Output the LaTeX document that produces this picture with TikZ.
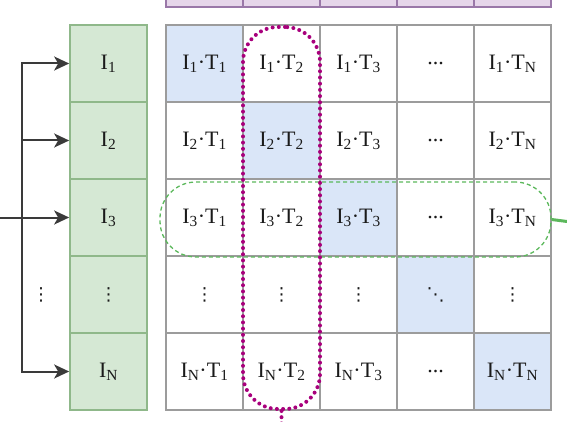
\documentclass[tikz,border=0pt]{standalone}
\usepackage{fontspec}
\setmainfont{Liberation Serif}
\newfontfamily\symfont{DejaVu Sans}
\usetikzlibrary{arrows.meta}
\definecolor{gfill}{HTML}{D5E8D4}
\definecolor{gborder}{HTML}{8FB88A}
\definecolor{bfill}{HTML}{DAE6F8}
\definecolor{gridc}{HTML}{9C9C9C}
\definecolor{pfill}{HTML}{E6D6EA}
\definecolor{pborder}{HTML}{9A78A8}
\definecolor{arrc}{HTML}{3A3A3A}
\definecolor{magc}{HTML}{A8007C}
\definecolor{gdc}{HTML}{5CB85C}
\definecolor{txtc}{HTML}{1A1A1A}
\newcommand\prodtxt[2]{I\textsubscript{#1}·T\textsubscript{#2}}
\newcommand\vdotstxt{{\symfont\fontsize{18}{18}\selectfont ⋮}}
\newcommand\ddotstxt{{\symfont\fontsize{18}{18}\selectfont ⋱}}
\tikzset{
  cellbox/.style={draw=gridc, line width=1.7pt, minimum width=77pt, minimum height=77pt,
    inner sep=0pt, font=\fontsize{22}{24}\selectfont, text=txtc},
  diag/.style={cellbox, fill=bfill},
  gbox/.style={cellbox, draw=gborder, fill=gfill},
  pbox/.style={cellbox, draw=pborder, fill=pfill},
  arr/.style={draw=arrc, line width=2pt, -{Stealth[length=15pt,width=14pt,inset=4pt]}},
  magdot/.style={draw=magc, line width=4pt, dash pattern=on 0pt off 6.2pt, line cap=round},
  gdash/.style={draw=gdc, line width=1.3pt, dash pattern=on 4pt off 3pt},
  gout/.style={draw=gdc, line width=3pt},
}
\begin{document}
\begin{tikzpicture}[x=1pt,y=-1pt]
\useasboundingbox (0,0) rectangle (567,422);
\clip (0,0) rectangle (567,422);
% purple header row (cut off)
\foreach \c/\x in {1/204.5,2/281.5,3/358.5,4/435.5,5/512.5}
  \node[pbox] (p\c) at (\x,-31.5) {};
% green column
\node[gbox] (g1) at (108.5,63.5) {I\textsubscript{1}};
\node[gbox] (g2) at (108.5,140.5) {I\textsubscript{2}};
\node[gbox] (g3) at (108.5,217.5) {I\textsubscript{3}};
\node[gbox] (g4) at (108.5,294.5) {\vdotstxt};
\node[gbox] (g5) at (108.5,371.5) {I\textsubscript{N}};
% row 1
\node[diag]    (c11) at (204.5,63.5) {\prodtxt{1}{1}};
\node[cellbox] (c12) at (281.5,63.5) {\prodtxt{1}{2}};
\node[cellbox] (c13) at (358.5,63.5) {\prodtxt{1}{3}};
\node[cellbox] (c14) at (435.5,63.5) {...};
\node[cellbox] (c15) at (512.5,63.5) {\prodtxt{1}{N}};
% row 2
\node[cellbox] (c21) at (204.5,140.5) {\prodtxt{2}{1}};
\node[diag]    (c22) at (281.5,140.5) {\prodtxt{2}{2}};
\node[cellbox] (c23) at (358.5,140.5) {\prodtxt{2}{3}};
\node[cellbox] (c24) at (435.5,140.5) {...};
\node[cellbox] (c25) at (512.5,140.5) {\prodtxt{2}{N}};
% row 3
\node[cellbox] (c31) at (204.5,217.5) {\prodtxt{3}{1}};
\node[cellbox] (c32) at (281.5,217.5) {\prodtxt{3}{2}};
\node[diag]    (c33) at (358.5,217.5) {\prodtxt{3}{3}};
\node[cellbox] (c34) at (435.5,217.5) {...};
\node[cellbox] (c35) at (512.5,217.5) {\prodtxt{3}{N}};
% row 4
\node[cellbox] (c41) at (204.5,294.5) {\vdotstxt};
\node[cellbox] (c42) at (281.5,294.5) {\vdotstxt};
\node[cellbox] (c43) at (358.5,294.5) {\vdotstxt};
\node[diag]    (c44) at (435.5,294.5) {\ddotstxt};
\node[cellbox] (c45) at (512.5,294.5) {\vdotstxt};
% row 5
\node[cellbox] (c51) at (204.5,371.5) {\prodtxt{N}{1}};
\node[cellbox] (c52) at (281.5,371.5) {\prodtxt{N}{2}};
\node[cellbox] (c53) at (358.5,371.5) {\prodtxt{N}{3}};
\node[cellbox] (c54) at (435.5,371.5) {...};
\node[diag]    (c55) at (512.5,371.5) {\prodtxt{N}{N}};
% left arrows
\coordinate (src) at (0,217.5);
\coordinate (bus) at (22,217.5);
\draw[arr] (src) -- (g3);
\draw[arr] (bus) |- (g1);
\draw[arr] (bus) |- (g2);
\draw[arr] (bus) |- (g5);
\node[text=txtc] (ldots) at (41,294.5) {\vdotstxt};
% green dashed row selection
\node[gdash, rounded corners=36pt, minimum width=391pt, minimum height=75pt, inner sep=0pt]
  (rowsel) at (355.5,219.5) {};
\coordinate (rowout) at (567,221.5);
\draw[gout] (rowsel.east) -- (rowout);
% magenta dotted column selection
\node[magdot, rounded corners=35pt, minimum width=77pt, minimum height=382pt, inner sep=0pt]
  (colsel) at (281.5,218) {};
\coordinate (colout) at (281.5,426);
\draw[magdot] (colsel.south) -- (colout);
\end{tikzpicture}
\end{document}
